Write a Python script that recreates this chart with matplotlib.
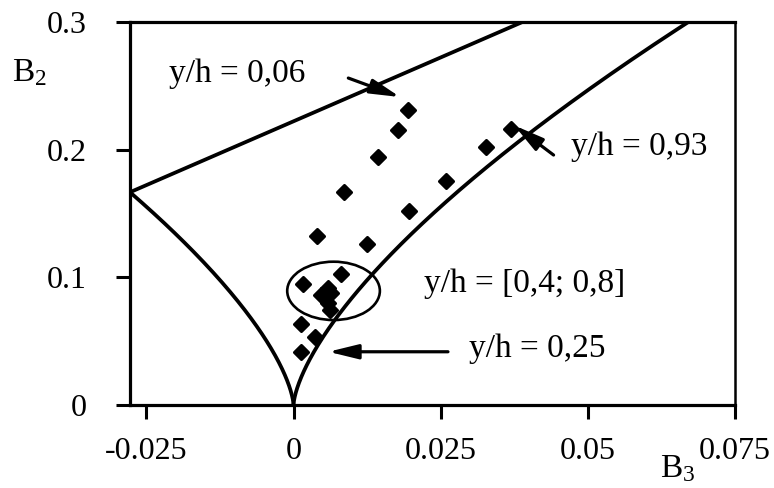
import numpy as np
import matplotlib
matplotlib.use("Agg")
import matplotlib.pyplot as plt
from matplotlib.patches import Ellipse
from matplotlib.markers import MarkerStyle

plt.rcParams["font.family"] = ["Liberation Serif", "DejaVu Serif"]
plt.rcParams["mathtext.fontset"] = "custom"
plt.rcParams["mathtext.rm"] = "Liberation Serif"
plt.rcParams["mathtext.it"] = "Liberation Serif:italic"

# Measured anisotropy invariants (B3, B2)
b3_points = [0.01943, 0.01774, 0.01427, 0.00865, 0.00406, 0.01246, 0.01955,
             0.02591, 0.03262, 0.03688, 0.00812, 0.00164, 0.00587, 0.00474,
             0.00643, 0.00587, 0.00614, 0.00124, 0.00360, 0.00135]
b2_points = [0.2310, 0.2154, 0.1942, 0.1666, 0.1326, 0.1262, 0.1521,
             0.1752, 0.2020, 0.2165, 0.1023, 0.0945, 0.0914, 0.0861,
             0.0875, 0.0796, 0.0744, 0.0634, 0.0535, 0.0418]

x_ticks = [-0.025, 0, 0.025, 0.05, 0.075]
x_tick_labels = ["-0.025", "0", "0.025", "0.05", "0.075"]
y_ticks = [0, 0.1, 0.2, 0.3]
y_tick_labels = ["0", "0.1", "0.2", "0.3"]

# Realizability boundaries: axisymmetric states b = diag(2a, -a, -a)
a_left = np.linspace(-1.0 / 6.0, 0.0, 200)
a_right = np.linspace(0.0, np.sqrt(0.3 / 6.0), 200)
b3_two_comp = np.linspace(-1.0 / 36.0, (0.3 - 2.0 / 9.0) / 2.0, 50)

fig = plt.figure(figsize=(7.74, 4.88), dpi=100)
ax = fig.add_axes([130 / 774, 1 - 405 / 488, 605 / 774, 383 / 488])

lw_curve = 2.7
ax.plot(6 * a_left ** 3, 6 * a_left ** 2, color="black", lw=lw_curve,
        solid_capstyle="round")
ax.plot(6 * a_right ** 3, 6 * a_right ** 2, color="black", lw=lw_curve,
        solid_capstyle="round")
ax.plot(b3_two_comp, 2.0 / 9.0 + 2.0 * b3_two_comp, color="black", lw=lw_curve,
        solid_capstyle="round")

diamond = MarkerStyle("D", joinstyle="round")
ax.plot(b3_points, b2_points, linestyle="none", marker=diamond, color="black",
        markersize=7.5, markeredgewidth=2.2, markeredgecolor="black",
        markerfacecolor="black")

ax.add_patch(Ellipse((0.0068, 0.0894), 0.01574, 0.0457, fill=False,
                     edgecolor="black", lw=1.9))

fs = 24
arrow = dict(arrowstyle="-|>,head_length=0.9,head_width=0.22", color="black",
             lw=2.3, shrinkA=0, shrinkB=0, mutation_scale=20)

ax.text(-0.02116, 0.2529, "y/h = 0,06", fontsize=fs, ha="left", va="baseline")
ax.annotate("", xy=(0.01811, 0.2412), xytext=(0.00931, 0.2561), arrowprops=arrow)

ax.text(0.04706, 0.1958, "y/h = 0,93", fontsize=fs, ha="left", va="baseline")
ax.annotate("", xy=(0.0375, 0.2190), xytext=(0.04418, 0.1958), arrowprops=arrow)

ax.text(0.02217, 0.0885, "y/h = [0,4; 0,8]", fontsize=fs, ha="left", va="baseline")

ax.text(0.02979, 0.0378, "y/h = 0,25", fontsize=fs, ha="left", va="baseline")
ax.annotate("", xy=(0.00592, 0.0417), xytext=(0.02624, 0.0417), arrowprops=arrow)

ax.set_xlim(-1.0 / 36.0, 0.075)
ax.set_ylim(0, 0.3)
ax.set_xticks(x_ticks)
ax.set_xticklabels(x_tick_labels)
ax.set_yticks(y_ticks)
ax.set_yticklabels(y_tick_labels)
ax.tick_params(direction="out", length=10, width=2.2, labelsize=23,
               top=False, right=False)
ax.tick_params(axis="x", pad=13)
ax.tick_params(axis="y", pad=21)
for side in ["left", "bottom", "top"]:
    ax.spines[side].set_linewidth(2.3)
ax.spines["right"].set_linewidth(1.8)

fig.text(12 / 774, 1 - 81 / 488, r"$\mathrm{B}_2$", fontsize=fs,
         ha="left", va="baseline")
fig.text(660 / 774, 1 - 477 / 488, r"$\mathrm{B}_3$", fontsize=fs,
         ha="left", va="baseline")

fig.savefig("out.png", dpi=100)
